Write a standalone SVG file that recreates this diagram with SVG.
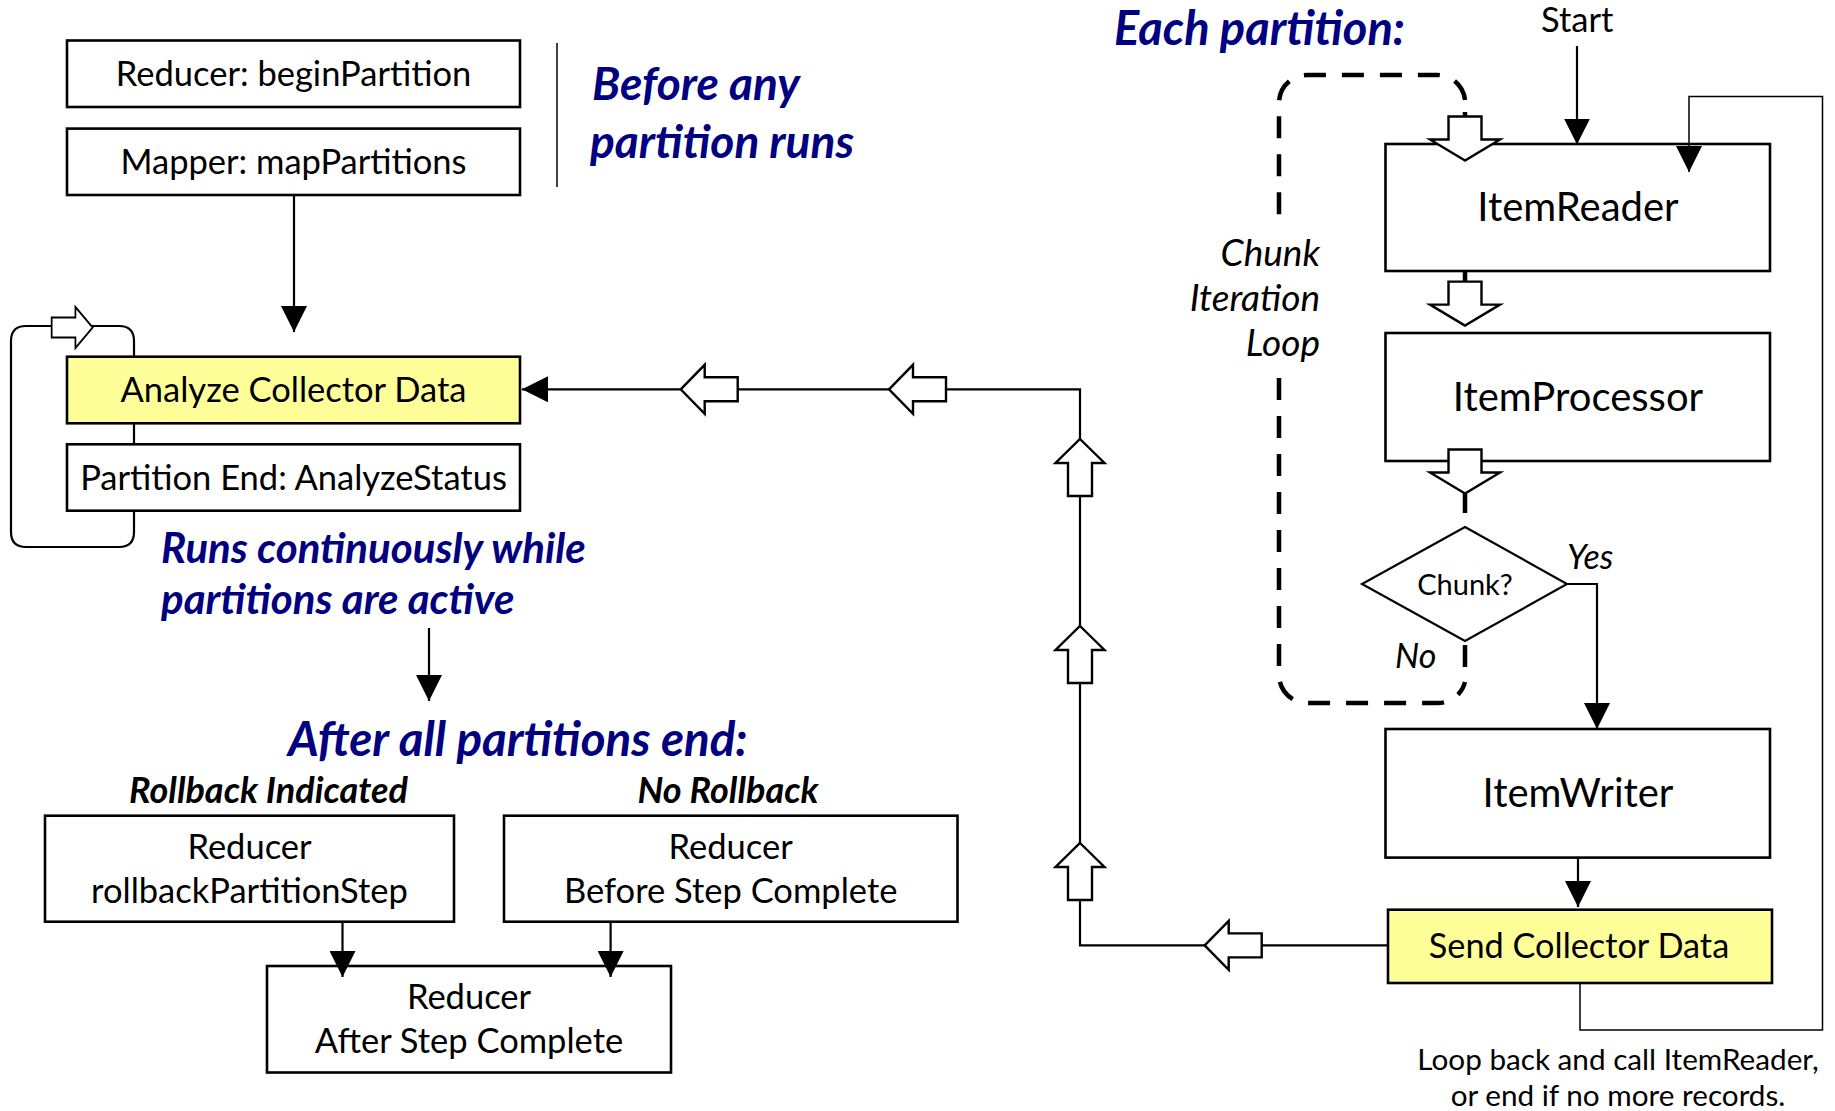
<svg xmlns="http://www.w3.org/2000/svg" width="1835" height="1111" viewBox="0 0 1835 1111">
<style>
  .box{fill:#ffffff;stroke:#000000;stroke-width:2.6}
  .hl{fill:#ffff99;stroke:#000000;stroke-width:2.6}
  .t{font-family:Lato,"Liberation Sans",sans-serif;fill:#000000}
  .c{text-anchor:middle}
  .blue{font-family:Lato,"Liberation Sans",sans-serif;font-weight:bold;font-style:italic;fill:#000080}
  .it{font-family:Lato,"Liberation Sans",sans-serif;font-style:italic;fill:#000000}
  .bi{font-family:Lato,"Liberation Sans",sans-serif;font-weight:bold;font-style:italic;fill:#000000}
  .ln{fill:none;stroke:#000000;stroke-width:2.2}
  .thin{fill:none;stroke:#000000;stroke-width:1.5}
  .dash{fill:none;stroke:#000000;stroke-width:4.5;stroke-dasharray:22 16}
  .stub{fill:none;stroke:#000000;stroke-width:4.5}
  .blk{fill:#ffffff;stroke:#000000;stroke-width:2.4}
</style>
<defs>
  <marker id="ah" markerUnits="userSpaceOnUse" markerWidth="26" markerHeight="26" viewBox="0 0 26 26" refX="26" refY="13" orient="auto">
    <path d="M0,0 L26,13 L0,26 Z" fill="#000000"/>
  </marker>
  <path id="bl" d="M0,0 L24,-24.5 L24,-12 L57,-12 L57,12 L24,12 L24,24.5 Z"/>
  <path id="bd" d="M0,0 L-35,-21 L-16.5,-21 L-16.5,-44 L16.5,-44 L16.5,-21 L35,-21 Z"/>
</defs>

<g id="reducer-begin">
  <rect class="box" x="67" y="40.5" width="453" height="66.5"/>
  <text class="t c" x="293.5" y="85.5" font-size="34.5">Reducer: beginPartition</text>
</g>
<g id="mapper">
  <rect class="box" x="67" y="128.6" width="453" height="66.4"/>
  <text class="t c" x="293.5" y="174" font-size="34.5">Mapper: mapPartitions</text>
</g>
<g id="before-label">
  <text class="blue" x="592" y="100" font-size="46">Before any</text>
  <text class="blue" x="590" y="158" font-size="46">partition runs</text>
</g>
<g id="analyze">
  <rect class="hl" x="67" y="356.7" width="453" height="66.6"/>
  <text class="t c" x="293.5" y="402" font-size="34.5">Analyze Collector Data</text>
</g>
<g id="partition-end">
  <rect class="box" x="67" y="444.3" width="453" height="66.4"/>
  <text class="t c" x="293.5" y="489.5" font-size="34.5">Partition End: AnalyzeStatus</text>
</g>
<g id="runs-label">
  <text class="blue" x="161" y="563" font-size="42">Runs continuously while</text>
  <text class="blue" x="161" y="614" font-size="42">partitions are active</text>
</g>
<g id="after-label">
  <text class="blue" x="288" y="756" font-size="47.5">After all partitions end:</text>
  <text class="bi" x="129" y="803" font-size="36">Rollback Indicated</text>
  <text class="bi" x="637.5" y="803" font-size="36">No Rollback</text>
</g>
<g id="reducer-rollback">
  <rect class="box" x="45" y="815.7" width="409" height="106"/>
  <text class="t c" x="249.5" y="859" font-size="34.5">Reducer</text>
  <text class="t c" x="249.5" y="902.5" font-size="34.5">rollbackPartitionStep</text>
</g>
<g id="reducer-before">
  <rect class="box" x="504" y="815.7" width="453.5" height="106"/>
  <text class="t c" x="730.7" y="859" font-size="34.5">Reducer</text>
  <text class="t c" x="730.7" y="902.5" font-size="34.5">Before Step Complete</text>
</g>
<g id="reducer-after">
  <rect class="box" x="267" y="966" width="404" height="106.5"/>
  <text class="t c" x="469" y="1008.5" font-size="34.5">Reducer</text>
  <text class="t c" x="469" y="1052.5" font-size="34.5">After Step Complete</text>
</g>

<g id="each-label">
  <text class="blue" x="1114" y="45" font-size="47">Each partition:</text>
  <text class="t" x="1541" y="32" font-size="34.5">Start</text>
</g>
<g id="item-reader">
  <rect class="box" x="1385.5" y="144" width="384.5" height="127"/>
  <text class="t c" x="1578" y="221" font-size="40">ItemReader</text>
</g>
<g id="loop-label">
  <text class="it" x="1320" y="266" font-size="37" text-anchor="end">Chunk</text>
  <text class="it" x="1320" y="311" font-size="37" text-anchor="end">Iteration</text>
  <text class="it" x="1320" y="355.5" font-size="37" text-anchor="end">Loop</text>
</g>
<g id="item-processor">
  <rect class="box" x="1385.5" y="333" width="384.5" height="128"/>
  <text class="t c" x="1578" y="410.5" font-size="40">ItemProcessor</text>
</g>
<g id="chunk-decision">
  <path class="box" d="M1465,527 L1567,584 L1465,641 L1362,584 Z" style="stroke-width:2.2"/>
  <text class="t c" x="1465" y="594.5" font-size="29">Chunk?</text>
  <text class="it" x="1567" y="569" font-size="34">Yes</text>
  <text class="it" x="1395" y="668" font-size="34">No</text>
</g>
<g id="item-writer">
  <rect class="box" x="1385.5" y="729" width="384.5" height="128.6"/>
  <text class="t c" x="1578" y="807" font-size="40">ItemWriter</text>
</g>
<g id="send-collector">
  <rect class="hl" x="1388" y="909.7" width="384" height="73.3"/>
  <text class="t c" x="1579" y="958" font-size="34.3">Send Collector Data</text>
</g>
<g id="loop-note">
  <text class="t c" x="1618" y="1070" font-size="29.7">Loop back and call ItemReader,</text>
  <text class="t c" x="1618" y="1106" font-size="29.7">or end if no more records.</text>
</g>

<g id="connectors">
  <path class="ln" d="M294,195 L294,332" marker-end="url(#ah)"/>
  <path class="ln" d="M134,356.7 L134,341 Q134,326 119,326 L26,326 Q11,326 11,341 L11,532 Q11,547 26,547 L119,547 Q134,547 134,532 L134,510.7"/>
  <path class="ln" d="M134,423.3 L134,444.3"/>
  <use href="#bl" class="blk" transform="translate(92.7,327.5) scale(-0.72,0.84)"/>
  <path class="ln" d="M429,628 L429,701" marker-end="url(#ah)"/>
  <path class="ln" d="M342.5,921.7 L342.5,977" marker-end="url(#ah)"/>
  <path class="ln" d="M610.6,921.7 L610.6,977" marker-end="url(#ah)"/>
  <path class="ln" d="M1388,945.4 L1080,945.4 L1080,389.3 L522,389.3" marker-end="url(#ah)"/>
  <use href="#bl" class="blk" transform="translate(680.7,389.3)"/>
  <use href="#bl" class="blk" transform="translate(889,389.3)"/>
  <use href="#bl" class="blk" transform="translate(1080,439) rotate(90)"/>
  <use href="#bl" class="blk" transform="translate(1080,626) rotate(90)"/>
  <use href="#bl" class="blk" transform="translate(1080,843) rotate(90)"/>
  <use href="#bl" class="blk" transform="translate(1204.7,945.4)"/>
  <path class="ln" d="M1577,46 L1577,144.6" marker-end="url(#ah)"/>
  <path class="thin" d="M1580,983 L1580,1030 L1822.5,1030 L1822.5,96.5 L1689,96.5 L1689,172" marker-end="url(#ah)"/>
  <path class="dash" d="M1465,100 A28,28 0 0 0 1437,75 L1307,75 A28,28 0 0 0 1279,103 L1279,222"/>
  <path class="dash" d="M1279,378 L1279,675 A28,28 0 0 0 1307,703 L1437,703 A28,28 0 0 0 1465,682"/>
  <path class="stub" d="M1465,112 L1465,118"/>
  <path class="stub" d="M1465,271 L1465,282"/>
  <path class="stub" d="M1465,492 L1465,513"/>
  <path class="stub" d="M1465,645 L1465,667"/>
  <use href="#bd" class="blk" transform="translate(1465,160.5)"/>
  <use href="#bd" class="blk" transform="translate(1465,325.6)"/>
  <use href="#bd" class="blk" transform="translate(1465,493.5)"/>
  <path class="ln" d="M1567,584 L1597,584 L1597,729" marker-end="url(#ah)"/>
  <path class="ln" d="M1578,857.6 L1578,907" marker-end="url(#ah)"/>
  <path class="thin" d="M557,43 L557,187"/>
</g>
</svg>
